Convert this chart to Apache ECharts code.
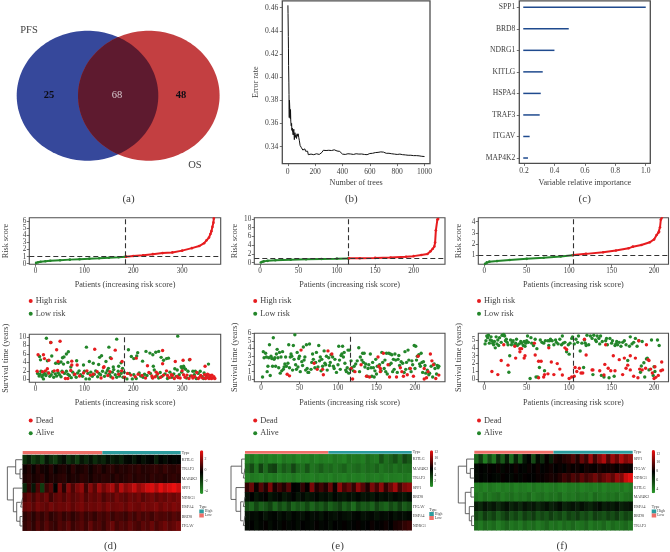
<!DOCTYPE html>
<html><head><meta charset="utf-8">
<script src="https://cdn.jsdelivr.net/npm/echarts@6/dist/echarts.min.js"></script>
<style>html,body{margin:0;padding:0;background:#fff}#c{width:670px;height:552px;filter:blur(.4px)}</style>
</head><body><div id="c"></div>
<script>
const vennNames=['PFS','OS'];
const vennCounts=[25,68,48];
const treeCounts=[1,2,3,4,5,6,8,9,10,11,12,13,15,17,19,20,22,25,28,30,33,36,40,44,48,52,56,60,64,68,72,76,80,85,90,95,100,105,110,115,120,125,130,135,140,145,150,155,160,170,180,190,200,210,220,230,240,250,260,270,280,290,300,320,340,360,380,400,420,440,460,480,500,520,540,560,580,600,620,640,660,680,700,720,740,760,780,800,820,840,860,880,900,920,940,960,980,1000];
const errorRate=[.462,.455,.445,.435,.425,.41,.395,.385,.372,.365,.38,.378,.372,.368,.364,.372,.362,.358,.36,.354,.356,.352,.35,.355,.346,.352,.348,.35,.347,.351,.349,.351,.348,.345,.341,.342,.339,.339,.337,.337,.336,.338,.336,.335,.335,.336,.333,.3325,.333,.3335,.3335,.333,.3338,.3338,.3335,.3332,.3334,.335,.3368,.3362,.3366,.336,.3368,.3366,.3372,.3362,.3358,.3335,.3332,.3338,.3336,.3332,.3338,.3335,.3336,.3332,.333,.334,.3342,.3348,.335,.3354,.3352,.3342,.3342,.3338,.3335,.3332,.3335,.333,.3328,.3325,.3325,.3322,.3322,.332,.3316,.3314];
const geneNames=['SPP1','BRD8','NDRG1','KITLG','HSPA4','TRAF3','ITGAV','MAP4K2'];
const geneImportance=[1,.494,.4,.323,.31,.303,.237,.226];

const riskLowD=[[1,.12],[5,.2],[10,.28],[20,.36],[30,.42],[50,.5],[70,.58],[90,.65],[110,.72],[130,.78],[150,.85],[170,.92],[184,.97]];
const riskHighD=[[185,1],[200,1.1],[220,1.2],[240,1.35],[260,1.5],[280,1.6],[300,1.85],[320,2.2],[335,2.5],[345,2.9],[350,3.3],[355,3.7],[358,4.2],[360,4.6],[362,5.2],[364,5.8],[365,6.4]];
const riskLowE=[[1,.05],[3,.2],[5,.3],[10,.42],[20,.55],[40,.7],[60,.78],[80,.85],[100,.92],[115,.98]];
const riskHighE=[[116,1],[130,1.03],[150,1.1],[170,1.2],[190,1.35],[200,1.5],[210,1.75],[218,2],[222,2.6],[225,3.2],[227,3.7],[228,4.6],[229,7.4],[231,9.9],[232,10]];
const riskLowF=[[1,.2],[3,.33],[6,.4],[15,.45],[30,.55],[50,.65],[70,.75],[90,.87],[104,.98]];
const riskHighF=[[105,1],[120,1.1],[140,1.25],[155,1.4],[170,1.6],[175,1.75],[185,1.9],[195,2.15],[200,2.4],[203,2.8],[205,3],[206,3.1],[207,3.5],[208,4.2],[210,4.4]];

const deadD=[[5,5.8],[16,5.8],[18,4.9],[31,8.7],[27,4.5],[43,7],[50,9],[46,4.2],[74,4.3],[85,3.4],[74,3.4],[121,7.1],[139,2.8],[155,4.9],[163,6.9],[177,4.2],[206,5],[229,3.2],[260,3.7],[260,6.8],[286,4.2],[302,4.5],[316,4.7],[347,3.1],[3,1.9],[14,1.8],[20,2],[24,2.5],[27,1.5],[38,2],[45,2.1],[55,1.7],[61,.2],[66,.2],[72,2.1],[80,1.2],[90,.8],[98,1.5],[105,2],[112,1],[118,1.2],[126,1.8],[134,.3],[140,3],[148,.9],[152,1.8],[158,.3],[170,1.2],[176,2],[182,.5],[188,1.4],[195,1],[204,.6],[210,1.2],[218,.9],[225,.3],[232,1.6],[238,.8],[245,.6],[250,1.3],[256,.5],[262,1],[268,2],[274,.4],[280,.9],[284,.2],[290,.7],[296,.3],[300,2],[306,.5],[310,1],[314,.2],[320,.8],[326,.6],[330,1.6],[335,.4],[338,.9],[342,.3],[346,1.1],[350,.5],[352,1.2],[355,.2],[357,.8],[359,.4],[361,1],[363,.3],[365,.6],[367,.2],[356,1],[360,.2],[348,.2],[333,.2],[322,.3],[303,1.1],[292,.4],[278,1.1],[270,.9],[247,1.7],[240,.3]];
const aliveD=[[22,9.7],[31,8.7],[166,9.5],[291,10.2],[104,7.6],[150,7.6],[190,7],[67,6.5],[63,6],[10,4.6],[8,5.4],[24,4.4],[33,5.5],[41,3.8],[47,3.8],[55,5.1],[58,5.3],[52,4.1],[57,3.6],[66,4],[72,2.9],[84,4.4],[98,3.4],[110,4.2],[118,3.8],[129,3.5],[131,5.2],[135,5.6],[144,4.2],[149,2.6],[153,5.1],[159,2.9],[170,3.1],[175,3.9],[178,2.6],[196,5.4],[201,4.9],[207,5.5],[209,6.3],[219,4.3],[226,6.6],[234,6.2],[240,5.8],[241,3.1],[246,6.4],[252,6.6],[257,5.2],[262,4.5],[268,4.9],[272,5],[285,2.5],[298,3],[303,3.1],[315,4.6],[354,3.6],[4,1.4],[7,.8],[9,1.2],[11,1.9],[13,.6],[15,1],[16,.1],[18,1.4],[21,.9],[25,1.5],[29,.7],[32,1.1],[35,1.8],[37,.5],[40,1.3],[43,.8],[46,1.6],[49,1.1],[52,.6],[54,1.9],[59,1.4],[63,1.9],[66,1.2],[69,.9],[73,.4],[76,1.7],[79,1.1],[83,.5],[86,1.5],[89,2],[92,1.1],[96,.7],[100,1.9],[103,.1],[107,1.4],[110,.1],[113,1.7],[116,.7],[120,1.2],[123,2],[127,.6],[130,1.4],[133,1.1],[137,1.9],[141,.7],[144,1.5],[147,2.1],[151,1.2],[154,.6],[157,1.7],[160,2.3],[163,1.1],[166,.5],[169,1.9],[172,.8],[175,1.4],[179,.5],[181,1.7],[187,.1],[192,1.4],[198,.1],[201,1.1],[206,.2],[212,1.5],[215,.8],[220,.5],[223,1.2],[228,.9],[235,1.4],[239,.4],[243,2.2],[248,.9],[252,.3],[255,1.6],[259,.7],[265,1.3],[270,.2],[275,1.7],[279,.5],[283,1.3],[288,.7],[294,1.1],[299,1.7],[304,2.7],[309,.3],[312,1.9],[317,.8],[322,1.9],[325,1.1],[329,.2],[333,1.4],[337,1.9],[341,.6],[345,1.5],[349,.9],[353,.4],[344,.2],[327,1.9],[307,2.4],[300,2.6],[290,2.2]];
const deadE=[[52,3.8],[87,3.7],[69,2.1],[34,.65],[37,.45],[73,1.3],[80,1.3],[81,.6],[92,3.3],[119,.05],[117,1.4],[122,1],[130,1.9],[137,.4],[141,.3],[152,2.9],[153,1.7],[155,1],[159,3.4],[165,1.9],[167,.3],[176,.3],[181,1.5],[183,1],[185,.4],[190,.6],[198,.4],[204,3],[212,1.4],[212,.05],[215,.2],[220,3.3],[222,2.4],[224,1.9],[227,.1],[231,.55],[217,1],[155,1.4],[194,1.4]];
const aliveE=[[2,.3],[3,3.6],[4,2.8],[6,3.4],[7,2.9],[8,1],[9,1.7],[10,2.8],[11,4.5],[12,.5],[13,3],[14,2.7],[15,1.7],[16,5.4],[17,2.6],[18,2.8],[19,1.7],[20,3.3],[21,3.9],[22,2.8],[23,1.5],[24,3.5],[25,.8],[26,2.9],[27,1.1],[28,3.6],[29,1.3],[30,1.6],[31,2],[32,2.9],[33,1.7],[35,2.1],[36,4.5],[37,1.5],[38,2.9],[39,3.3],[40,3],[41,1.2],[42,4.4],[43,2.6],[44,5.8],[45,1.9],[46,1.3],[47,3.5],[48,1.6],[49,2.7],[50,3],[51,1],[53,2.3],[54,1.8],[55,4.2],[56,2.5],[57,2.9],[58,1.2],[59,4.5],[60,1.4],[61,.9],[62,.9],[63,4.6],[65,1.3],[66,2.2],[67,3.3],[68,2.6],[70,1.5],[71,2.2],[72,3.5],[74,1.6],[75,4.4],[76,2.4],[77,2.9],[78,1.1],[79,2.6],[80,1.7],[82,3.7],[83,2.1],[84,1.9],[85,3],[86,1.2],[88,2.8],[89,1.8],[90,2.2],[91,3.2],[93,2.9],[94,1.7],[95,1.4],[96,2.6],[98,.9],[100,1.9],[101,4.3],[102,2.5],[103,1.3],[104,3.1],[105,3.3],[106,4.3],[107,2.9],[108,3.5],[109,2.1],[110,1.2],[111,1],[112,1.5],[113,3.8],[114,.8],[115,3.8],[116,1.3],[117,2.4],[118,1.5],[120,1.1],[121,1.7],[123,2],[125,2.4],[127,4.1],[128,1],[129,2.9],[131,2.5],[132,3.4],[133,2.2],[134,3.4],[135,1.6],[136,2],[138,.4],[139,1.4],[140,1.9],[142,3.3],[143,1.5],[144,.4],[145,2.2],[146,1.5],[147,.3],[148,1.1],[149,2.6],[150,.7],[151,1.7],[154,1.9],[156,1.1],[157,3.5],[158,2.2],[160,1.4],[161,2.5],[162,1],[163,3.4],[164,.7],[166,3.4],[167,1.9],[168,3.3],[169,2.1],[170,3.2],[171,1],[172,2.6],[173,1.3],[174,3.3],[175,2.5],[177,.9],[178,2.6],[179,3.1],[180,1.8],[182,2.3],[184,2.1],[186,.9],[187,3.6],[188,1.3],[189,2.2],[191,3.8],[192,2.5],[193,1.4],[195,1],[196,2.4],[197,1.9],[199,4.4],[200,1.4],[201,4.3],[202,2.5],[203,3],[205,3.2],[206,2],[207,1.7],[208,3.4],[209,2.2],[210,.9],[211,2.3],[213,1.8],[214,.8],[216,1.2],[218,.6],[219,.8],[221,1.7],[223,.3],[225,2],[226,1.4],[228,.7],[229,1.8],[230,1.5],[231,1.7]];
const deadF=[[9,1],[16,.6],[20,2.4],[23,4.4],[28,1.8],[36,4.2],[37,2.7],[42,3.9],[42,3.5],[44,3.9],[47,2.7],[48,3],[59,4.6],[60,3.1],[64,2.3],[67,2.3],[64,.2],[70,.3],[71,.6],[75,.7],[76,4],[79,2.2],[82,.6],[86,2],[89,1.3],[92,.55],[95,4],[97,3.8],[100,.1],[103,.3],[106,.4],[107,1.5],[109,1],[112,1.4],[114,.8],[116,.8],[118,5.1],[120,3.1],[127,1.2],[128,1.2],[136,1.1],[141,.55],[143,4.4],[142,1.9],[146,1.4],[149,1.1],[152,3],[154,1.1],[159,2.5],[163,.6],[165,2.7],[167,1.4],[169,1.8],[172,1.2],[172,3],[176,.4],[178,2.7],[181,.2],[183,1.3],[182,4.9],[186,1.2],[190,1.4],[191,4.4],[193,2.5],[194,2.4],[196,1.3],[198,.8],[200,.1],[202,.25],[201,1.6],[205,.5],[208,1.1],[209,2.2],[210,1.2]];
const aliveF=[[1,4.5],[2,4.9],[3,5.5],[4,5.3],[5,5.6],[6,4.6],[7,5],[8,5.4],[9,4.9],[10,4.6],[11,4.4],[12,4.8],[13,4],[14,5.4],[15,4.5],[16,5],[17,4.3],[18,5.3],[20,4.7],[21,5.6],[22,5.6],[23,5.7],[24,5.5],[25,4.9],[26,5.1],[27,4.7],[28,4.4],[29,.9],[30,3],[31,5],[32,4.4],[33,4.7],[34,4.9],[36,4.4],[37,4.6],[38,5.1],[39,4.3],[41,4.5],[43,4.8],[44,4.6],[46,4.3],[47,4.8],[48,4.2],[49,4.6],[50,4.9],[51,5.5],[52,4.7],[54,.1],[55,5.3],[56,4.6],[58,4.3],[60,5.1],[61,.3],[62,3.9],[63,.3],[65,1.5],[66,5],[68,4.7],[70,4.6],[71,1.1],[72,4.9],[75,4.9],[76,4.3],[77,4.9],[78,5.1],[80,4.9],[82,4.4],[84,5],[85,4.7],[87,4.5],[89,5.1],[91,4.4],[92,5.5],[93,4.6],[95,4.7],[97,3.5],[99,4.4],[100,3.2],[101,4.6],[103,5.2],[104,5.4],[106,4.5],[108,5.1],[110,4.7],[111,5.5],[113,3.6],[115,4.6],[117,1.5],[118,5],[119,4.6],[120,4.3],[121,5.6],[123,4.4],[125,5.5],[127,5.2],[128,.6],[129,5.6],[131,5],[132,4.8],[133,5.5],[135,5.2],[136,4.5],[137,5.5],[138,.5],[139,4.8],[141,.3],[143,4.9],[144,5.2],[145,4.4],[147,.2],[148,5.2],[150,4.6],[151,4.9],[153,.4],[154,4.3],[155,4.5],[156,4.8],[157,4.4],[159,4.7],[161,4.2],[163,4.7],[165,4.9],[167,4.4],[169,2.4],[171,4.2],[172,5.4],[174,4.5],[176,4.7],[178,5.2],[180,4.2],[182,4.9],[184,.9],[185,1.7],[186,4.8],[188,2.1],[189,.3],[191,2.6],[192,2.7],[194,1.2],[197,5],[199,.5],[200,1.6],[201,1],[204,5],[206,4.3]];

const heatGenesD=['KITLG','TRAF3','MAP4K2','SPP1','NDRG1','HSPA4','BRD8','ITGAV'];
const heatGenesE=['KITLG','MAP4K2','TRAF3','SPP1','BRD8','ITGAV','HSPA4','NDRG1'];
const heatGenesF=['SPP1','ITGAV','NDRG1','KITLG','MAP4K2','HSPA4','BRD8','TRAF3'];
const heatD=[
[-1.8,-1.2,-2,-1.5,-2.2,-1,-1.6,-2,-1.2,-.8,-1.8,-1.3,-2,-1,-1.5,-.9,-1.6,-1.1,-1.4,-.8,-1.2,-.9,-1.3,-.7,-.6,-1,-.5,-.9,-.6,-.4,-1.2,-.5,-.8,-.4,-.6,-.5],
[-.2,.1,-.3,.2,-.1,-.2,.2,-.3,0,.1,-.2,.3,-.1,0,.2,-.2,.1,.3,-.1,.2,.3,0,.2,.1,.3,.2,.4,.1,.2,.3,.4,.2,.5,.3,.2,.4],
[0,.2,-.1,.1,.3,-.2,.1,0,.2,.3,-.1,.1,0,.3,.2,-.1,.2,.1,.3,.2,0,.3,.1,.2,.4,.1,.3,.2,.1,.4,.2,.3,.1,.3,.4,.2],
[-1.5,.3,-1,.8,-2,.5,1,-.5,1.5,.2,1.8,.8,1.6,2,.6,1.8,1,2.2,1.4,2,2.4,1.2,2.6,1.8,2.2,2.8,2,2.4,3,3.2,2.5,3.4,2.8,3.2,3.5,3],
[.8,1.2,.7,1.3,1,1.4,.6,1.1,1.3,.9,1.4,1,1.2,1.5,.9,1.3,1.1,1.4,.8,1.2,1,1.5,1.2,1,1.4,1.2,1.5,1,1.3,1.5,1.1,1.4,1.2,1.5,1.3,1.6],
[1.2,1.4,1,1.5,1.3,1.1,1.5,1.2,1.4,1.3,1.5,1.1,1.4,1.6,1.2,1.4,1.3,1.5,1.2,1.6,1.3,1.4,1.5,1.2,1.6,1.4,1.3,1.6,1.4,1.5,1.7,1.3,1.6,1.4,1.7,1.5],
[.3,.6,.2,.7,.4,.8,.3,.5,.8,.4,.7,.3,.6,.9,.5,.7,.4,.8,.6,.9,.5,.8,.7,.5,.9,.6,1,.7,.9,.6,1,.8,.9,.7,1,.8],
[.4,.7,.3,.9,.5,1,.6,.4,.9,.7,1.1,.5,.8,1,.6,1.2,.7,.9,.5,1,1.3,.7,1,.8,1.2,.9,.7,1.1,.9,1.3,.8,1.1,1.4,1,1.2,1.5]];
const heatE=[
[.8,1.3,.5,1.1,1.3,.7,1,.5,1.3,.9,1.2,.6,1,.8,1.3,.7,1.1,.9,.8,1.3,1,.7,1.5,1.1,1.3,.9,1.8,1.3,1.1,2.8,1.5,2.1,2.9,1.7,3.3,2.5],
[1.8,3.1,1.3,3.5,1.7,3.2,3.6,1.5,2.5,1.8,3.3,1.9,1.5,2.7,1.3,1.7,2.3,1.5,1.9,1.3,1.7,2.1,1.3,1.6,1.9,1.3,1.8,1.5,2.1,1.3,1.7,1.9,1.3,1.8,1.5,1.7],
[.8,1.2,1,.7,1.3,.9,1.2,.7,1.1,.9,1.3,.8,1.1,1,.8,1.2,.9,1.1,.8,1.2,1,.8,1.2,.9,1.1,.8,1.2,1,.9,1.2,.8,1.1,1,.9,1.2,1],
[7.5,9,6.5,8.5,7,9.5,6.8,8,7,8.5,6.2,6,7.5,6.3,9.5,7,8,7,9,6.5,10,8,9,7.5,10,8.5,7,9.5,8,10,7.5,9,10.5,8,9.5,10],
[5.5,6.2,5.3,5.8,6.3,5.2,5.7,6,5.2,5.6,6.1,5.3,5.8,5.2,5.5,6,5.4,5.7,5.2,6,5.5,5.2,5.7,5.4,5.9,5.3,5.6,5.2,5.9,5.4,5.7,5.3,5.8,5.5,5.2,5.7],
[2.9,1.9,3.3,2.1,2.7,3.5,1.9,3.1,2.3,3.5,2,2.7,2.2,3.2,1.9,2.9,2.3,3.3,2.1,2.8,3.5,2.2,2.9,1.7,3.2,2.3,2.8,2,3.4,2.5,2,3.1,2.4,3.6,2.3,3],
[5.4,5.8,5.6,6,5.3,5.8,6,5.5,5.9,5.4,6,5.7,5.5,6,5.6,5.8,5.4,6,5.7,5.5,5.9,5.6,5.4,5.8,6,5.5,5.7,5.9,5.4,5.8,5.6,6,5.5,5.8,5.6,5.9],
[5.8,6.2,5.6,6,6.3,5.7,6.1,5.8,6.3,5.9,6.1,5.7,6.2,6,5.8,6.3,5.9,6.1,5.7,6.2,6,6.3,5.9,6.1,6.4,6,6.2,6.5,6.1,6.3,6.6,6.2,6.8,7,7.5,7.8]];
const heatF=[
[4.5,6,3.8,5.5,4.2,6.5,5,7,4.5,6.8,5,7.2,7.8,5.5,7.5,6.5,8,7,8.4,8.2,8.6,8.8,9.5,8.5,10,9,11,9.2,10.5,11.5,9.5,11,10,11.5,10.5,11],
[7.6,7.9,7.7,8,7.8,8.1,7.6,8,7.8,8.2,7.9,7.7,8.1,7.9,8.2,7.8,8,8.2,7.9,8.1,7.8,8.3,8,8.2,7.9,8.3,8.1,8,8.4,8.1,8.2,8.3,8,8.4,8.2,8.1],
[7.5,7.8,7.6,7.9,7.7,7.6,8,7.8,7.6,8,7.7,8,7.9,7.8,8.1,8,8.2,8.4,8.2,8.6,9.2,8.8,9.5,9,9.8,9.2,9.6,10.2,9.4,10,10.5,9.8,11,10.5,12,12.5],
[3.8,4,3.7,4.1,3.9,3.7,4,3.8,4.1,3.7,4,3.9,3.7,4.1,3.8,4,3.7,3.9,4.1,3.8,3.7,4,3.9,4.1,3.7,3.9,4,3.8,4.1,3.7,4,3.9,3.8,4.1,3.7,4],
[4.2,3.9,4.4,4,4.3,4.5,3.9,4.2,4.4,4,4.3,4.1,4.5,3.9,4.2,4.4,4,4.3,4.1,4.5,3.9,4.2,4,4.4,4.1,4.3,3.9,4.5,4.2,4,4.3,4.1,4.4,3.9,4.2,4.3],
[7,6.6,7.3,6.8,7.2,6.5,7,7.4,6.7,7.1,6.6,7.3,6.9,7.2,6.6,7,7.4,6.8,7.1,7.5,6.7,7,7.3,6.9,7.4,7,6.7,7.2,7.5,6.9,7.2,7,7.4,6.8,7.1,7.3],
[5.6,5,6,5.3,5.8,4.9,5.5,6.1,5.2,5.7,5,5.9,5.4,6,5.1,5.6,5.2,5.9,5.3,5.7,5,5.8,5.4,6,5.2,5.6,5,5.9,5.5,5.2,5.8,5.4,6,5.1,5.7,5.4],
[4.4,4,4.6,4.2,4.5,3.9,4.3,4.7,4.1,4.4,4,4.6,4.2,4.5,4,4.3,4.7,4.1,4.4,4,4.5,4.2,4.6,4.1,4.3,4.7,4,4.4,4.2,4.6,4,4.5,4.2,4.3,4.6,4.1]];
const treeD=[46,[21,0,[8,1,2]],[28,3,[18,[6,4,5],[8,6,7]]]];
const treeE=[42,[10,0,[5,1,2]],[27,3,[13,[5,4,5],[5,6,7]]]];
const treeF=[48,[23,0,[12,1,2]],[27,[10,3,4],[15,5,[8,6,7]]]];

const SERIF='"Liberation Serif",serif', TXT='#3d3d3d', BOX='#4d4d4d';
const RED='#e61c1f', GREEN='#23862a';
const opt={animation:false,backgroundColor:'#fff',grid:[],xAxis:[],yAxis:[],series:[],legend:[],visualMap:[],graphic:[]};

function vAxis(min,max,ticks,o){o=o||{};
  const fs=o.fs||7.2, fmt=o.fmt||(v=>String(v));
  return {type:'value',min,max,inverse:!!o.inverse,show:!o.hidden,position:o.position,
    name:o.name,nameLocation:'middle',nameGap:o.gap,nameTextStyle:{fontFamily:SERIF,fontSize:8.2,color:TXT},
    splitLine:{show:false},axisLine:{show:false,onZero:false},
    axisTick:{show:!!ticks,length:o.tl===undefined?2.5:o.tl,lineStyle:{color:BOX,width:.8},customValues:ticks||undefined},
    axisLabel:{show:!!ticks,fontFamily:SERIF,fontSize:fs,color:TXT,margin:o.margin===undefined?3:o.margin,customValues:ticks||undefined,formatter:fmt,showMinLabel:true,showMaxLabel:true,hideOverlap:false}};
}
function addGrid(l,t,r,b,xa,ya,border){
  const i=opt.grid.length;
  opt.grid.push({left:l,top:t,width:r-l,height:b-t,show:!!border,borderColor:BOX,borderWidth:border||0,backgroundColor:'transparent',containLabel:false});
  xa.gridIndex=i;ya.gridIndex=i;opt.xAxis.push(xa);opt.yAxis.push(ya);return i;
}
function text(x,y,s,fs,o){o=o||{};
  opt.graphic.push({type:'text',x,y,silent:true,z:50,style:{text:s,fontFamily:SERIF,fontSize:fs,fill:o.fill||TXT,align:o.align||'center',verticalAlign:'middle',fontWeight:o.w||'normal'}});
}
/* ---------- (a) venn ---------- */
const vg=addGrid(0,0,240,192,vAxis(0,240,null,{hidden:true}),vAxis(0,192,null,{hidden:true,inverse:true}));
const vennShapes=[[87.5,95.7,70.8,65,'#36489b'],[148.8,95.7,70.8,65,'#c33f41'],['lens','', '', '','#5e1a2f']];
function ell(cx,cy,rx,ry,a0,a1,n){const p=[];for(let k=0;k<=n;k++){const a=a0+(a1-a0)*k/n;p.push([cx+rx*Math.cos(a),cy+ry*Math.sin(a)]);}return p;}
opt.series.push({type:'custom',coordinateSystem:'cartesian2d',xAxisIndex:vg,yAxisIndex:vg,silent:true,clip:false,
  data:vennShapes.map((s,i)=>[i]),
  renderItem(p,api){
    const s=vennShapes[p.dataIndex];let pts;
    if(s[0]==='lens'){
      const A=vennShapes[0],B=vennShapes[1],t=Math.acos((B[0]-A[0])/2/A[2]);
      pts=ell(A[0],A[1],A[2],A[3],-t,t,50).concat(ell(B[0],B[1],B[2],B[3],Math.PI-t,Math.PI+t,50));
    } else pts=ell(s[0],s[1],s[2],s[3],0,Math.PI*2,160);
    return {type:'polygon',shape:{points:pts.map(q=>api.coord(q))},style:{fill:s[4]}};
  }});
const vennLabelAt=[[49,95.5],[117,95.5],[181,95.5]];
opt.series.push({type:'scatter',xAxisIndex:vg,yAxisIndex:vg,symbolSize:0,silent:true,z:5,itemStyle:{opacity:1},
  data:vennCounts.map((v,i)=>({value:vennLabelAt[i],label:{show:true,position:'inside',formatter:String(v),fontFamily:SERIF,fontSize:10.5,fontWeight:i==1?'normal':'bold',color:i==1?'#d9cdd2':'#0c0c14'}}))});
text(29,30.5,vennNames[0],10.5);text(195,165.5,vennNames[1],10.5);
text(128.5,199.5,'(a)',11);text(351.3,199.5,'(b)',11);text(584.7,199.5,'(c)',11);
text(110.3,546.5,'(d)',11);text(337.7,546.5,'(e)',11);text(562,546.5,'(f)',11);
/* ---------- (b) error ---------- */
const bg=addGrid(282.3,.8,430,163.6,
  vAxis(-40,1040,[0,200,400,600,800,1000],{name:'Number of trees',gap:15,fs:7.6,margin:4}),
  vAxis(.3253,.4659,[.34,.36,.38,.4,.42,.44,.46],{name:'Error rate',gap:22.5,fs:7.6,margin:4,fmt:v=>v.toFixed(2)}),1.3);
opt.series.push({type:'line',xAxisIndex:bg,yAxisIndex:bg,showSymbol:false,silent:true,lineStyle:{color:'#111',width:1},data:treeCounts.map((t,i)=>[t,errorRate[i]])});
/* ---------- (c) importance ---------- */
const cg=addGrid(519.3,.8,650.3,163.4,
  vAxis(.169,1.03,[.2,.4,.6,.8,1],{name:'Variable relative importance',gap:15,fs:7.6,margin:4,fmt:v=>v.toFixed(1)}),
  vAxis(-.3,7.25,[0,1,2,3,4,5,6,7],{inverse:true,fs:7.6,margin:4,fmt:v=>geneNames[v]}),1.3);
opt.series.push({type:'custom',xAxisIndex:cg,yAxisIndex:cg,coordinateSystem:'cartesian2d',silent:true,
  data:geneImportance.map((v,i)=>[v,i]),
  renderItem(p,api){const a=api.coord([.195,api.value(1)]),b=api.coord([api.value(0),api.value(1)]);
    return {type:'line',shape:{x1:a[0],y1:a[1],x2:b[0],y2:b[1]},style:{stroke:'#1f4a8e',lineWidth:1.5}};}});
/* ---------- (d,e,f) ---------- */
const panels=[
 {l:29.3,r:220.7,xr:[-13,379],xt:[0,100,200,300],vx:183,yr:[-.08,6.5],yt:[0,1,2,3,4,5,6],rl:riskLowD,rh:riskHighD,gapR:19.5,gapS:19.5,
  st:334.3,sb:382.3,syr:[-.7,10.64],syt:[0,2,4,6,8,10],dead:deadD,alive:aliveD,svx:181.5,lx:28.7,
  hl:22.7,hr:180.7,at:451,ab:454.3,ht:455,hb:530.7,genes:heatGenesD,heat:heatD,tree:treeD,counts:[184,181],
  cb:[200,203.3,450.3,494],cbr:[-4.5,3.6],cbt:[-4,-2,0,2],tx:199.3,ty:507},
 {l:254.3,r:445,xr:[-7.4,240.9],xt:[0,50,100,150,200],vx:115.5,yr:[-.37,10.3],yt:[0,2,4,6,8,10],rl:riskLowE,rh:riskHighE,gapR:15,gapS:15,
  st:333.2,sb:381.7,syr:[-.31,6],syt:[0,1,2,3,4,5,6],sxr:[-8.7,239],dead:deadE,alive:aliveE,svx:115.6,lx:253.2,
  hl:245,hr:411.7,at:451,ab:453.7,ht:454.3,hb:530.3,genes:heatGenesE,heat:heatE,tree:treeE,counts:[116,116],
  cb:[430,433,450.3,487],cbr:[-.3,12.7],cbt:[2,4,6,8,10,12],tx:429.3,ty:509.5},
 {l:478.3,r:668.5,xr:[-7,217],xt:[0,50,100,150,200],vx:104.7,yr:[.16,4.36],yt:[1,2,3,4],rl:riskLowF,rh:riskHighF,gapR:15,gapS:15,
  st:333.3,sb:381.7,syr:[-.3,5.85],syt:[0,1,2,3,4,5],dead:deadF,alive:aliveF,svx:104.7,lx:477,
  hl:474.3,hr:632.7,at:450.7,ab:453.7,ht:454.3,hb:530.3,genes:heatGenesF,heat:heatF,tree:treeF,counts:[105,105],
  cb:[651.7,655,450,493.3],cbr:[2.9,12.84],cbt:[4,6,8,10,12],tx:651.7,ty:507}
];
const dash={symbol:'none',silent:true,animation:false,label:{show:false},lineStyle:{color:'#333',type:[5,3],width:1.1}};
panels.forEach(P=>{
  const g=addGrid(P.l,217.7,P.r,264.3,
    vAxis(P.xr[0],P.xr[1],P.xt,{name:'Patients (increasing risk score)',gap:17}),
    vAxis(P.yr[0],P.yr[1],P.yt,{name:'Risk score',gap:P.gapR}),1.1);
  const line=(name,col,data,ml)=>({type:'line',name,xAxisIndex:g,yAxisIndex:g,silent:true,symbol:'circle',symbolSize:2.6,showAllSymbol:true,
    itemStyle:{color:col},lineStyle:{color:col,width:2},data,markLine:ml});
  opt.series.push(line('Low risk',GREEN,P.rl));
  opt.series.push(line('High risk',RED,P.rh,Object.assign({data:[{yAxis:1},{xAxis:P.vx}]},dash)));
  opt.legend.push({left:P.lx,top:297,orient:'vertical',padding:0,itemWidth:4,itemHeight:4,itemGap:4.8,icon:'circle',selectedMode:false,
    data:['High risk','Low risk'],textStyle:{fontFamily:SERIF,fontSize:8.3,color:TXT,padding:[0,0,0,-2]}});
  const sx=P.sxr||P.xr;
  const s=addGrid(P.l,P.st,P.r,P.sb,
    vAxis(sx[0],sx[1],P.xt,{name:'Patients (increasing risk score)',gap:17}),
    vAxis(P.syr[0],P.syr[1],P.syt,{name:'Survival time (years)',gap:P.gapS}),1.1);
  const pts=(name,col,data,ml)=>({type:'scatter',name,xAxisIndex:s,yAxisIndex:s,silent:true,symbolSize:3.4,itemStyle:{color:col,opacity:1},data,markLine:ml});
  opt.series.push(pts('Alive',GREEN,P.alive));
  opt.series.push(pts('Dead',RED,P.dead,Object.assign({data:[{xAxis:P.svx}]},dash)));
  opt.legend.push({left:P.lx,top:416.5,orient:'vertical',padding:0,itemWidth:4,itemHeight:4,itemGap:4.8,icon:'circle',selectedMode:false,
    data:['Dead','Alive'],textStyle:{fontFamily:SERIF,fontSize:8.3,color:TXT,padding:[0,0,0,-2]}});
  /* annotation bar */
  const total=P.counts[0]+P.counts[1];
  const a=addGrid(P.hl,P.at,P.hr,P.ab,vAxis(0,total,null,{hidden:true}),
    {type:'category',data:['Type'],position:'right',axisLine:{show:false},axisTick:{show:false},axisLabel:{fontFamily:SERIF,fontSize:3.9,color:TXT,margin:1}});
  opt.series.push({type:'bar',name:'Low',stack:'t'+a,xAxisIndex:a,yAxisIndex:a,silent:true,barWidth:'100%',itemStyle:{color:'#ef6f68'},data:[P.counts[0]]});
  opt.series.push({type:'bar',name:'High',stack:'t'+a,xAxisIndex:a,yAxisIndex:a,silent:true,barWidth:'100%',itemStyle:{color:'#2b9c9e'},data:[P.counts[1]]});
  opt.legend.push({left:P.tx,top:P.ty+2.5,orient:'vertical',padding:0,itemWidth:4.5,itemHeight:4,itemGap:0,icon:'rect',selectedMode:false,
    data:['High','Low'],textStyle:{fontFamily:SERIF,fontSize:3.8,color:TXT,padding:[0,0,0,-4]}});
  text(P.tx,P.ty,'Type',3.9,{align:'left'});
  /* heat matrix */
  const cols=P.heat[0].map((_,i)=>i);
  const h=addGrid(P.hl,P.ht,P.hr,P.hb,
    {type:'category',data:cols,show:false},
    {type:'category',data:P.genes,inverse:true,position:'right',axisLine:{show:false},axisTick:{show:false},splitLine:{show:false},axisLabel:{fontFamily:SERIF,fontSize:4,color:TXT,margin:1,interval:0}});
  const sIdx=opt.series.length;
  const hd=[];P.heat.forEach((row,r)=>row.forEach((v,c)=>hd.push([c,r,v])));
  opt.series.push({type:'heatmap',xAxisIndex:h,yAxisIndex:h,silent:true,data:hd,progressive:0,emphasis:{disabled:true},itemStyle:{borderWidth:0}});
  opt.visualMap.push({type:'continuous',seriesIndex:sIdx,min:P.cbr[0],max:P.cbr[1],calculable:false,hoverLink:false,padding:0,text:null,
    left:P.cb[0],top:P.cb[2],itemWidth:P.cb[1]-P.cb[0],itemHeight:P.cb[3]-P.cb[2],inRange:{color:['#2a9a2a','#000000','#f01010']},dimension:2});
  addGrid(P.cb[0],P.cb[2],P.cb[1],P.cb[3],vAxis(0,1,null,{hidden:true}),
    vAxis(P.cbr[0],P.cbr[1],P.cbt,{position:'right',fs:3.9,tl:0,margin:1.2}));
  /* dendrogram */
  const dl=[];
  (function walk(n){
    if(typeof n==='number')return{y:n+.5,h:0};
    const A=walk(n[1]),B=walk(n[2]);
    dl.push([A.h,A.y],[n[0],A.y],[n[0],B.y],[B.h,B.y],['-','-']);
    return{y:(A.y+B.y)/2,h:n[0]};
  })(P.tree);
  const root=P.tree[0], dWidth=root/3;
  const d=addGrid(P.hl-dWidth,P.ht,P.hl,P.hb,vAxis(0,root,null,{hidden:true,inverse:true}),vAxis(0,8,null,{hidden:true,inverse:true}));
  opt.series.push({type:'line',xAxisIndex:d,yAxisIndex:d,silent:true,showSymbol:false,connectNulls:false,lineStyle:{color:'#555',width:.9},data:dl});
});
const chart=echarts.init(document.getElementById('c'),null,{renderer:'canvas'});
chart.setOption(opt);
</script></body></html>
